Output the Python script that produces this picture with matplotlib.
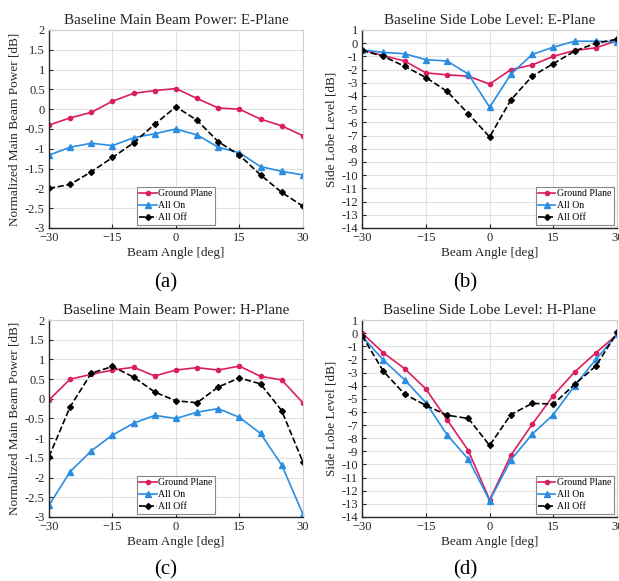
import numpy as np
import matplotlib
matplotlib.use("Agg")
import matplotlib.pyplot as plt

plt.rcParams['font.family'] = ['Liberation Serif', 'DejaVu Serif']
plt.rcParams['mathtext.fontset'] = 'stix'

# beam angles [deg]
angles = [-30, -25, -20, -15, -10, -5, 0, 5, 10, 15, 20, 25, 30]

# (a) main beam power, E-plane
a_ground = [-0.40, -0.22, -0.08, 0.20, 0.40, 0.47, 0.52, 0.27, 0.03, 0.00, -0.25, -0.42, -0.67]
a_on = [-1.16, -0.96, -0.86, -0.92, -0.72, -0.62, -0.50, -0.65, -0.96, -1.10, -1.45, -1.57, -1.66]
a_off = [-2.00, -1.90, -1.58, -1.22, -0.85, -0.38, 0.06, -0.28, -0.82, -1.16, -1.66, -2.10, -2.45]

# (b) side lobe level, E-plane
b_ground = [-0.50, -0.95, -1.35, -2.25, -2.40, -2.50, -3.10, -2.00, -1.65, -1.00, -0.55, -0.35, 0.20]
b_on = [-0.50, -0.70, -0.80, -1.25, -1.35, -2.35, -4.85, -2.35, -0.85, -0.30, 0.15, 0.15, 0.10]
b_off = [-0.55, -1.00, -1.75, -2.60, -3.65, -5.35, -7.10, -4.30, -2.50, -1.55, -0.60, 0.00, 0.30]

# (c) main beam power, H-plane
c_ground = [-0.03, 0.50, 0.62, 0.73, 0.80, 0.58, 0.73, 0.79, 0.73, 0.83, 0.57, 0.48, -0.10]
c_on = [-2.70, -1.85, -1.32, -0.92, -0.62, -0.42, -0.50, -0.34, -0.25, -0.47, -0.88, -1.68, -2.92]
c_off = [-1.47, -0.20, 0.65, 0.82, 0.55, 0.17, -0.05, -0.10, 0.30, 0.53, 0.38, -0.30, -1.60]

# (d) side lobe level, H-plane
d_ground = [0.00, -1.50, -2.70, -4.25, -6.60, -8.95, -12.70, -9.30, -6.95, -4.75, -2.95, -1.50, -0.10]
d_on = [-0.25, -2.05, -3.55, -5.30, -7.75, -9.60, -12.75, -9.65, -7.70, -6.20, -4.00, -2.00, -0.10]
d_off = [-0.20, -2.90, -4.65, -5.50, -6.25, -6.50, -8.55, -6.20, -5.35, -5.40, -3.90, -2.50, 0.05]

series_names = ["Ground Plane", "All On", "All Off"]

pink = "#DC1E5F"
blue = "#2A8DE2"
txt = "#262626"

fig = plt.figure(figsize=(6.19, 5.81), dpi=100)


def panel(rect, ground, on, off, title, ylabel, ylim, yticks, leg_loc, tag, tag_xy):
    ax = fig.add_axes(rect)
    ax.plot(angles, ground, color=pink, lw=1.2, marker='o', ms=3, label=series_names[0])
    ax.plot(angles, on, color=blue, lw=1.2, marker='^', ms=3.8, label=series_names[1])
    ax.plot(angles, off, color='black', lw=1.2, ls='--', marker='D', ms=3, label=series_names[2])
    ax.set_xlim(-30, 30)
    ax.set_ylim(*ylim)
    ax.set_xticks([-30, -15, 0, 15, 30])
    ax.set_yticks(yticks)
    ax.set_yticklabels(["{:g}".format(v) for v in yticks])
    ax.grid(True, color='#E0E0E0', lw=0.8)
    ax.set_axisbelow(True)
    for s in ['top', 'right']:
        ax.spines[s].set_color('#D0D0D0')
    for s in ['left', 'bottom']:
        ax.spines[s].set_color(txt)
        ax.spines[s].set_linewidth(1.0)
    ax.tick_params(direction='in', length=3, labelsize=9, pad=3, top=False, right=False,
                   colors=txt, labelcolor=txt)
    ax.set_title(title, fontsize=10.8, pad=4, color=txt)
    ax.set_xlabel("Beam Angle [deg]", fontsize=9.5, labelpad=2, color=txt)
    ax.set_ylabel(ylabel, fontsize=9.5, labelpad=3, color=txt)
    leg = ax.legend(loc=leg_loc, fontsize=7, handlelength=1.8, handletextpad=0.15,
                    borderpad=0.25, labelspacing=0.3, borderaxespad=0.35,
                    fancybox=False, framealpha=1)
    leg.get_frame().set_edgecolor('#888888')
    leg.get_frame().set_linewidth(0.8)
    fig.text(tag_xy[0], tag_xy[1], tag, fontsize=15, ha='center', va='center')
    return ax


panel([0.0792, 0.6076, 0.410, 0.3408], a_ground, a_on, a_off,
      "Baseline Main Beam Power: E-Plane", "Normalized Main Beam Power [dB]",
      (-3, 2), np.arange(-3, 2.01, 0.5), 'lower center', "(a)", (0.267, 0.513))
panel([0.585, 0.6076, 0.412, 0.3408], b_ground, b_on, b_off,
      "Baseline Side Lobe Level: E-Plane", "Side Lobe Level [dB]",
      (-14, 1), np.arange(-14, 1.01, 1), 'lower right', "(b)", (0.751, 0.513))
panel([0.0792, 0.1102, 0.410, 0.339], c_ground, c_on, c_off,
      "Baseline Main Beam Power: H-Plane", "Normalized Main Beam Power [dB]",
      (-3, 2), np.arange(-3, 2.01, 0.5), 'lower center', "(c)", (0.267, 0.020))
panel([0.585, 0.1102, 0.412, 0.339], d_ground, d_on, d_off,
      "Baseline Side Lobe Level: H-Plane", "Side Lobe Level [dB]",
      (-14, 1), np.arange(-14, 1.01, 1), 'lower right', "(d)", (0.751, 0.020))

fig.savefig("out.png", dpi=100)
